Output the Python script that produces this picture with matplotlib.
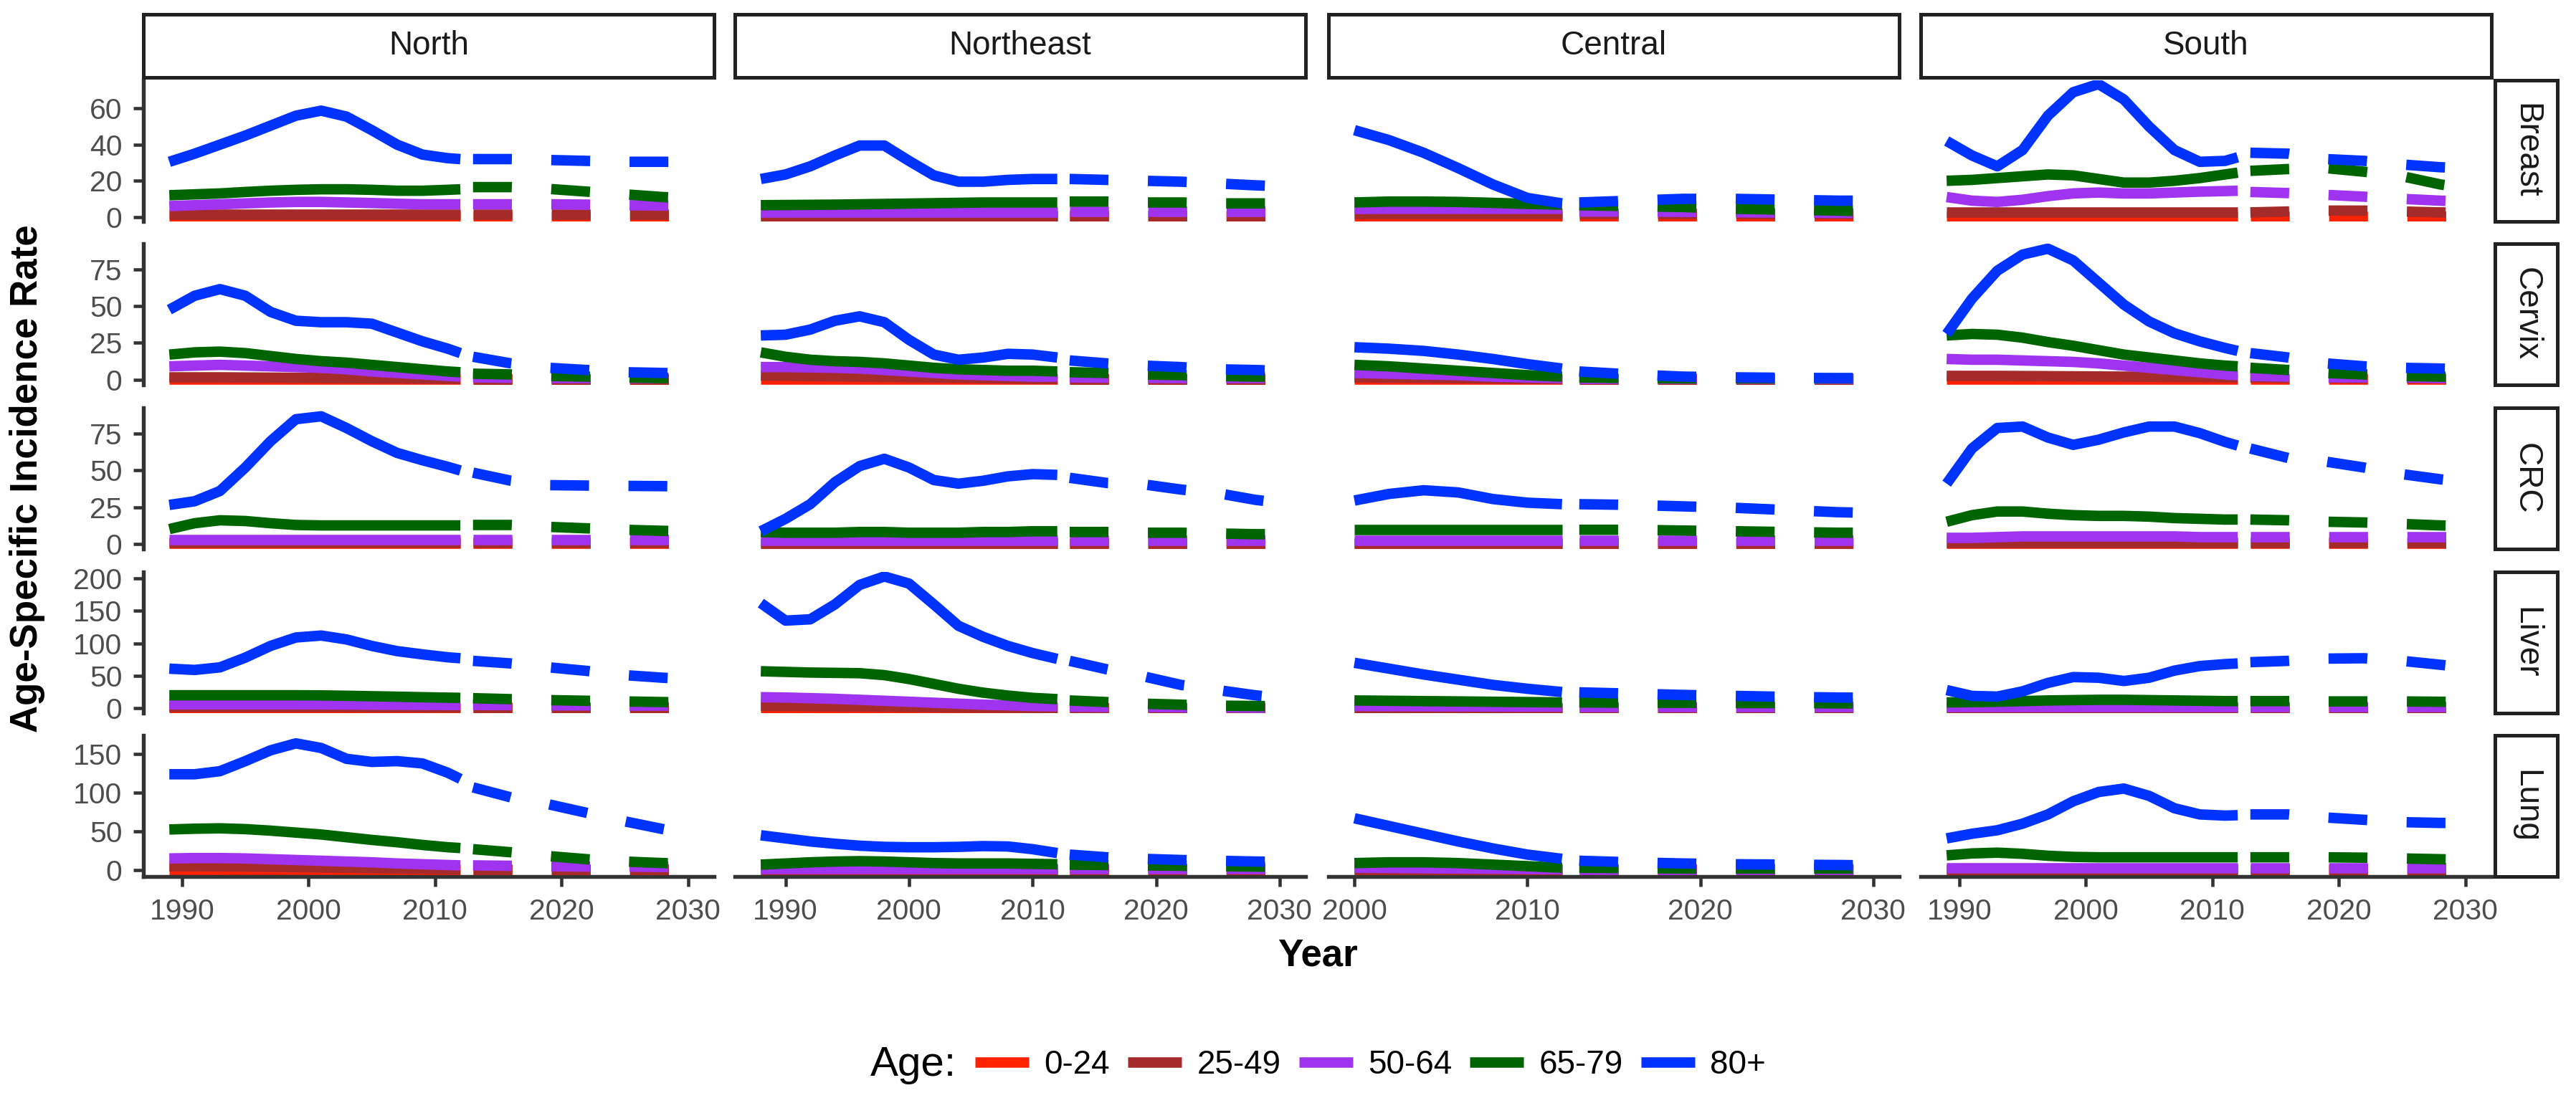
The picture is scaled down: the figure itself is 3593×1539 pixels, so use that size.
import matplotlib
matplotlib.use("Agg")
import matplotlib.pyplot as plt
from matplotlib.lines import Line2D
from matplotlib.patches import Rectangle

plt.rcParams['font.family'] = ['Liberation Sans', 'DejaVu Sans']
plt.rcParams['lines.scale_dashes'] = False

# ---------------- data ----------------
AGES = ["0-24", "25-49", "50-64", "65-79", "80+"]
COLORS = ["#FF2200", "#A52A2A", "#A033F0", "#006400", "#0033FF"]
REGIONS = ["North", "Northeast", "Central", "South"]
CANCERS = ["Breast", "Cervix", "CRC", "Liver", "Lung"]

YEARS_NORTH = [1989, 1991, 1993, 1995, 1997, 1999, 2001, 2003, 2005, 2007, 2009, 2011, 2012]
YEARS_NORTHEAST = [1988, 1990, 1992, 1994, 1996, 1998, 2000, 2002, 2004, 2006, 2008, 2010, 2012]
YEARS_CENTRAL = [2000, 2002, 2004, 2006, 2008, 2010, 2012]
YEARS_SOUTH = [1989, 1991, 1993, 1995, 1997, 1999, 2001, 2003, 2005, 2007, 2009, 2011, 2012]
PROJ_YEARS = [2013, 2016, 2019, 2022, 2025, 2028, 2030]

# observed series, order of AGES
north_breast_obs = [
    [0.1] * 13,
    [1.5] * 13,
    [6, 6.5, 7, 7.5, 8, 8.3, 8.3, 8, 7.7, 7.3, 7, 7, 7],
    [12, 12.5, 13, 13.8, 14.5, 15, 15.3, 15.3, 15, 14.5, 14.5, 15, 15.3],
    [30.5, 35, 40, 45, 50.5, 56, 58.8, 55.5, 48, 40, 34.5, 32.5, 32],
]
north_breast_proj = [
    [0.1] * 7,
    [1.5] * 7,
    [7, 7, 7, 6.8, 6.5, 6.3, 6.2],
    [16.5, 16.5, 15.5, 14, 12.5, 11, 10.5],
    [32, 32, 31.5, 31, 30.5, 30.5, 30.5],
]
north_cervix_obs = [
    [0.1] * 13,
    [1.5, 1.5, 1.5, 1.4, 1.3, 1.2, 1.1, 1, 0.9, 0.8, 0.7, 0.6, 0.5],
    [9, 9.5, 10, 9.5, 9, 8.5, 8, 7, 5.5, 4.5, 3.5, 2.5, 2],
    [17, 18.5, 19, 18, 16, 14, 12.5, 11.5, 10, 8.5, 7, 5.5, 5],
    [47.5, 57, 61.5, 57, 46, 40, 39, 39, 38, 32, 26, 21, 18],
]
north_cervix_proj = [
    [0.1] * 7,
    [0.5] * 7,
    [1.5, 1.2, 1, 1, 1, 1, 1],
    [4, 3.5, 2.5, 2, 1.5, 1, 1],
    [15.5, 11, 8, 6.5, 5, 4.5, 4],
]
north_crc_obs = [
    [0.1] * 13,
    [0.8] * 13,
    [2.6] * 13,
    [10, 14, 16, 15.5, 14, 12.8, 12.5, 12.5, 12.5, 12.5, 12.5, 12.5, 12.5],
    [26.5, 29, 36, 52, 70, 85, 87, 79, 70, 62, 57, 52.5, 50],
]
north_crc_proj = [
    [0.1] * 7,
    [0.8] * 7,
    [2.6] * 7,
    [12.8, 12.8, 11.5, 10.5, 9.5, 8.8, 8.5],
    [48.5, 43, 40, 39.7, 39.5, 39.3, 39],
]
north_liver_obs = [
    [0.2] * 13,
    [2, 2, 2, 2, 2, 2, 2, 2, 1.8, 1.8, 1.6, 1.5, 1.5],
    [6, 6, 6, 6, 6, 6, 6, 5.8, 5.6, 5.4, 5.2, 5, 5],
    [20, 20, 20, 20, 20, 20, 19.8, 19.2, 18.5, 17.8, 17, 16.3, 16],
    [61, 59, 63, 78, 96, 109, 112, 106, 96, 88, 83, 78.5, 77],
]
north_liver_proj = [
    [0.2] * 7,
    [1.5] * 7,
    [5, 4.8, 4.5, 4.3, 4, 4, 4],
    [15.5, 14, 12.5, 11.5, 10.5, 9.5, 9],
    [73, 69, 63, 57.5, 51, 47, 45],
]
north_lung_obs = [
    [0.2] * 13,
    [5, 5, 4.8, 4.5, 4.2, 3.8, 3.4, 3, 2.5, 2, 1.6, 1.2, 1],
    [15, 15.5, 15.5, 15, 14, 13, 12, 11, 10, 8.5, 7.5, 6.5, 6],
    [52.5, 53.5, 54, 53, 51, 48.5, 46, 42.5, 39, 36, 32.5, 29.5, 28.5],
    [124, 124, 128, 141, 155, 164, 158, 144, 140, 141, 138, 126, 118],
]
north_lung_proj = [
    [0.2] * 7,
    [1] * 7,
    [6, 5.5, 5, 4.5, 4.5, 4, 4],
    [27, 23, 18, 14, 11, 9, 8],
    [107, 94, 85, 74, 63, 53, 47],
]

northeast_breast_obs = [
    [0.1] * 13,
    [0.8] * 13,
    [2.8] * 13,
    [6.5, 6.6, 6.7, 6.8, 7, 7.2, 7.4, 7.6, 7.8, 8, 8, 8, 8],
    [21, 23.5, 28, 34, 39.5, 39.5, 31, 23, 19.5, 19.5, 20.5, 21, 21],
]
northeast_breast_proj = [
    [0.1] * 7,
    [0.8] * 7,
    [3] * 7,
    [8.5, 8.5, 8, 8, 7.5, 7.5, 7.5],
    [21, 20.5, 20, 19.5, 18.5, 17.5, 17],
]
northeast_cervix_obs = [
    [0.1] * 13,
    [2.7, 2.6, 2.4, 2.2, 2, 1.8, 1.6, 1.4, 1.2, 1, 0.8, 0.6, 0.5],
    [8.5, 8.5, 8.3, 8, 7.5, 6.5, 5.5, 4.5, 3.5, 3, 2.5, 2, 2],
    [18.5, 15.5, 13.5, 12.5, 12, 11, 9.5, 8, 7, 6.5, 6, 6, 5.5],
    [30, 30.5, 34, 40, 43, 39, 27, 17, 13.5, 15, 17.5, 17, 15],
]
northeast_cervix_proj = [
    [0.1] * 7,
    [0.5] * 7,
    [1.5, 1.3, 1.2, 1, 1, 1, 1],
    [5, 4.5, 3.5, 3, 2.5, 2, 2],
    [13, 11, 9.5, 8.5, 7, 6.5, 6],
]
northeast_crc_obs = [
    [0.1] * 13,
    [0.5] * 13,
    [2.5] * 13,
    [8, 7.5, 7.5, 7.5, 8, 8, 7.5, 7.5, 7.5, 8, 8, 8.5, 8.5],
    [8.5, 17, 27, 42, 53, 58, 52, 43.5, 41, 43, 46, 47.5, 47],
]
northeast_crc_proj = [
    [0.1] * 7,
    [0.5] * 7,
    [2.5] * 7,
    [8, 8, 7.5, 7.5, 7, 6.5, 6.5],
    [45, 41.5, 40.5, 37, 34.5, 30, 28],
]
northeast_liver_obs = [
    [0.2] * 13,
    [3.7, 3.5, 3.2, 3, 2.7, 2.4, 2, 1.7, 1.4, 1.1, 0.8, 0.6, 0.5],
    [17, 16.5, 15.5, 14.5, 13, 11.5, 10, 8.5, 7, 5.5, 4.5, 3.5, 3],
    [57, 56, 55, 54.5, 54, 51, 45, 37.5, 30, 24, 19.5, 16, 14],
    [162, 135, 137, 160, 190, 203, 192, 160, 127, 110, 96, 85, 76],
]
northeast_liver_proj = [
    [0.2] * 7,
    [0.5] * 7,
    [2.5, 2, 2, 1.5, 1.5, 1, 1],
    [12, 9.5, 7, 5.5, 4, 3.5, 3],
    [73, 60, 49, 36, 28, 20, 16],
]
northeast_lung_obs = [
    [0.2] * 13,
    [0.5] * 13,
    [1.5] * 13,
    [7, 8.5, 10, 11, 11.5, 11, 10, 9, 8.5, 8.5, 8.5, 8, 7.5],
    [45, 41, 37, 34, 31.5, 30, 29.5, 29.5, 30, 31, 30.5, 27, 22],
]
northeast_lung_proj = [
    [0.2] * 7,
    [0.5] * 7,
    [1.5] * 7,
    [7, 6.5, 6, 5.5, 5, 4.5, 4],
    [20, 16.5, 14.5, 13, 12, 11, 10.5],
]

central_breast_obs = [
    [0.1] * 7,
    [2, 2, 2, 2, 2, 2, 2],
    [4.4, 4.5, 4.5, 4.5, 4.5, 4.5, 4.5],
    [8, 8.5, 8.5, 8.3, 7.8, 7.2, 6.8],
    [48, 42.5, 35.5, 27, 18, 10.5, 7.5],
]
central_breast_proj = [
    [0.1] * 7,
    [2] * 7,
    [3, 3, 2.8, 2.6, 2.4, 2.2, 2.2],
    [6.5, 6, 5.5, 4.5, 4, 3.5, 3],
    [8, 9, 10, 10, 9.5, 9, 9],
]
central_cervix_obs = [
    [0.1] * 7,
    [1.5, 1.4, 1.2, 1, 0.8, 0.6, 0.5],
    [4.5, 4, 3.5, 3, 2, 1.5, 1],
    [10, 9, 7.5, 6, 4.5, 3, 2],
    [22, 21, 19.5, 17, 14, 10.5, 7.5],
]
central_cervix_proj = [
    [0.1] * 7,
    [0.5] * 7,
    [0.8] * 7,
    [1.5, 1, 0.8, 0.8, 0.8, 0.8, 0.8],
    [5.5, 3.5, 2, 1.5, 1.2, 1, 1],
]
central_crc_obs = [
    [0.1] * 7,
    [0.5] * 7,
    [2.4] * 7,
    [9.5] * 7,
    [29.5, 34, 36.5, 35, 30.5, 28, 27],
]
central_crc_proj = [
    [0.1] * 7,
    [0.5] * 7,
    [2.4] * 7,
    [9.5, 9.5, 9, 8.5, 8, 7.5, 7.5],
    [27, 26.5, 25.5, 24.5, 23, 21.5, 21],
]
central_liver_obs = [
    [0.2] * 7,
    [0.5] * 7,
    [3.5, 3.3, 3.1, 2.9, 2.7, 2.5, 2.5],
    [12, 11.5, 11, 10.5, 10, 9.5, 9],
    [70, 61, 52, 44, 36, 30, 25],
]
central_liver_proj = [
    [0.2] * 7,
    [0.5] * 7,
    [2.5] * 7,
    [9, 8.5, 8.5, 8, 8, 7.5, 7.5],
    [24.5, 22.5, 20.5, 19, 17.5, 16.5, 16],
]
central_lung_obs = [
    [0.2] * 7,
    [1] * 7,
    [3, 2.7, 2.3, 2, 1.7, 1.3, 1],
    [9, 10, 10, 9, 7, 5, 3],
    [67, 57, 47, 37, 28, 20, 14.5],
]
central_lung_proj = [
    [0.2] * 7,
    [1] * 7,
    [1] * 7,
    [3, 2.5, 2, 2, 2, 2, 2],
    [12, 10, 8.5, 7.5, 7, 6.5, 6],
]

south_breast_obs = [
    [0.1] * 13,
    [2.5] * 13,
    [11, 9, 8.3, 9.5, 11.5, 13, 13.5, 13, 13, 13.5, 14, 14.3, 14.5],
    [20, 20.5, 21.5, 22.5, 23.5, 23, 21, 19, 19, 20, 21.5, 23.5, 24.5],
    [42, 34, 28, 37, 56, 69, 73.5, 65, 50, 37, 30.5, 31, 33],
]
south_breast_proj = [
    [0.1] * 7,
    [2.5, 3, 3.5, 3.5, 3, 2.5, 2.5],
    [13.8, 13.2, 12.2, 11.2, 10, 9, 8.5],
    [25.5, 26.5, 27, 25, 22.5, 18, 16],
    [35.5, 35, 32, 31, 29, 27.5, 27],
]
south_cervix_obs = [
    [0.1] * 13,
    [2.5, 2.5, 2.5, 2.4, 2.3, 2.2, 2.1, 2, 1.9, 1.8, 1.7, 1.6, 1.5],
    [14, 13.5, 13.5, 13, 12.5, 12, 11, 9.5, 8, 6.5, 5, 3.5, 3],
    [30, 31, 30.5, 28.5, 25.5, 23, 20, 17, 15, 13, 11, 9.5, 9],
    [31, 55, 74, 85, 89, 81, 66, 51, 39.5, 31.5, 26, 21.5, 19.5],
]
south_cervix_proj = [
    [0.1] * 7,
    [1.5, 1.3, 1.2, 1, 1, 1, 1],
    [2.5, 2, 1.5, 1.5, 1.5, 1, 1],
    [8, 6.5, 4.5, 3.5, 2.5, 2, 2],
    [18, 15, 11, 9, 8, 7.5, 7],
]
south_crc_obs = [
    [0.1] * 13,
    [1] * 13,
    [4, 4, 4.5, 5, 5, 5, 5, 5, 5, 5, 4.5, 4.5, 4.5],
    [15, 19.5, 22, 22, 20.5, 19.5, 19, 19, 18.5, 17.5, 17, 16.5, 16.5],
    [41, 65, 79, 80, 72.5, 67.5, 71, 76, 80, 80, 75.5, 69.5, 67],
]
south_crc_proj = [
    [0.1] * 7,
    [1] * 7,
    [4.5] * 7,
    [16.5, 16, 15, 14.5, 13.5, 12.5, 12],
    [65, 58.5, 56, 52, 47.5, 44, 42],
]
south_liver_obs = [
    [0.2] * 13,
    [0.5] * 13,
    [2.5] * 13,
    [9, 9.5, 10, 11, 12, 12.5, 13, 13, 12.5, 12, 11.5, 11, 11],
    [28, 19, 18, 26, 39, 48, 47, 42, 47, 58, 65, 68, 69],
]
south_liver_proj = [
    [0.2] * 7,
    [0.5] * 7,
    [2.5] * 7,
    [11, 11, 10.5, 10.5, 10.5, 10, 10],
    [71, 73, 76.5, 77, 73, 67, 63],
]
south_lung_obs = [
    [0.2] * 13,
    [1] * 13,
    [3] * 13,
    [19, 21.5, 22.5, 21, 18.5, 17, 16.5, 16.5, 16.5, 16.5, 16.5, 16.5, 16.5],
    [41, 47, 51.5, 60, 72, 89, 101, 105.5, 96, 80, 72, 70.5, 71],
]
south_lung_proj = [
    [0.2] * 7,
    [1] * 7,
    [3] * 7,
    [16.5, 16.5, 16.5, 16, 15, 14, 13.5],
    [72, 72, 68, 65, 62, 61, 61],
]

OBS = {
    "North": [north_breast_obs, north_cervix_obs, north_crc_obs, north_liver_obs, north_lung_obs],
    "Northeast": [northeast_breast_obs, northeast_cervix_obs, northeast_crc_obs, northeast_liver_obs, northeast_lung_obs],
    "Central": [central_breast_obs, central_cervix_obs, central_crc_obs, central_liver_obs, central_lung_obs],
    "South": [south_breast_obs, south_cervix_obs, south_crc_obs, south_liver_obs, south_lung_obs],
}
PROJ = {
    "North": [north_breast_proj, north_cervix_proj, north_crc_proj, north_liver_proj, north_lung_proj],
    "Northeast": [northeast_breast_proj, northeast_cervix_proj, northeast_crc_proj, northeast_liver_proj, northeast_lung_proj],
    "Central": [central_breast_proj, central_cervix_proj, central_crc_proj, central_liver_proj, central_lung_proj],
    "South": [south_breast_proj, south_cervix_proj, south_crc_proj, south_liver_proj, south_lung_proj],
}
OBS_YEARS = {"North": YEARS_NORTH, "Northeast": YEARS_NORTHEAST,
             "Central": YEARS_CENTRAL, "South": YEARS_SOUTH}

Y_TICKS = [[0, 20, 40, 60], [0, 25, 50, 75], [0, 25, 50, 75], [0, 50, 100, 150, 200], [0, 50, 100, 150]]
Y_LIMS = [(-2.5, 75.6), (-3.6, 92.4), (-3.6, 92.8), (-7.5, 210), (-8.4, 174.4)]
X_TICKS = {"North": [1990, 2000, 2010, 2020, 2030], "Northeast": [1990, 2000, 2010, 2020, 2030],
           "Central": [2000, 2010, 2020, 2030], "South": [1990, 2000, 2010, 2020, 2030]}
X_LIMS = {"North": (1986.95, 2032.05), "Northeast": (1985.9, 2032.1),
          "Central": (1998.5, 2031.5), "South": (1986.95, 2032.05)}

# ---------------- layout (pixels) ----------------
W, H = 3593, 1539
DPI = 300
fig = plt.figure(figsize=(W / DPI, H / DPI), dpi=DPI)

col_left = [200, 1025, 1853, 2679]
col_w = 796
row_top = [112, 340, 569, 798, 1026]
row_h = 197

LW = 3.5
AX_COL = "#333333"
TICK_LAB = "#4D4D4D"


def fr(x, y, w, h):
    return [x / W, 1 - (y + h) / H, w / W, h / H]


for ci, reg in enumerate(REGIONS):
    for ri, can in enumerate(CANCERS):
        ax = fig.add_axes(fr(col_left[ci], row_top[ri], col_w, row_h))
        ax.set_xlim(*X_LIMS[reg])
        ax.set_ylim(*Y_LIMS[ri])
        obs = OBS[reg][ri]
        proj = PROJ[reg][ri]
        for ai, age in enumerate(AGES):
            ax.plot(OBS_YEARS[reg], obs[ai], color=COLORS[ai], lw=LW,
                    solid_capstyle='butt', solid_joinstyle='round', zorder=2 + ai)
            ax.plot(PROJ_YEARS, proj[ai], color=COLORS[ai], lw=LW,
                    linestyle=(0, (13, 13.2)), dash_capstyle='butt',
                    dash_joinstyle='round', zorder=2 + ai)
        for s in ['top', 'right']:
            ax.spines[s].set_visible(False)
        ax.spines['left'].set_visible(ci == 0)
        ax.spines['bottom'].set_visible(ri == 4)
        for s in ['left', 'bottom']:
            ax.spines[s].set_color(AX_COL)
            ax.spines[s].set_linewidth(1.3)
        ax.set_yticks(Y_TICKS[ri])
        ax.set_xticks(X_TICKS[reg])
        ax.tick_params(axis='both', length=3.3, width=1.1, color=AX_COL,
                       labelsize=9.8, labelcolor=TICK_LAB, pad=3.8)
        if ci != 0:
            ax.tick_params(axis='y', left=False, labelleft=False)
        if ri != 4:
            ax.tick_params(axis='x', bottom=False, labelbottom=False)
        ax.patch.set_alpha(0)

# column strips
for ci, reg in enumerate(REGIONS):
    sx, sy, sw, sh = col_left[ci], 20, col_w, 88
    fig.patches.append(Rectangle((sx / W, 1 - (sy + sh) / H), sw / W, sh / H,
                                 transform=fig.transFigure, facecolor='white',
                                 edgecolor='#222222', linewidth=1.2))
    fig.text((sx + sw / 2) / W, 1 - (sy + sh / 2) / H, reg, ha='center', va='center',
             fontsize=11, color='#1A1A1A')

# row strips
for ri, can in enumerate(CANCERS):
    sx, sy, sw, sh = 3480, row_top[ri], 87, row_h
    fig.patches.append(Rectangle((sx / W, 1 - (sy + sh) / H), sw / W, sh / H,
                                 transform=fig.transFigure, facecolor='white',
                                 edgecolor='#222222', linewidth=1.2))
    fig.text((sx + sw / 2) / W, 1 - (sy + sh / 2) / H, can, ha='center', va='center',
             fontsize=11, color='#1A1A1A', rotation=-90)

# axis titles
fig.text(38 / W, 1 - 668 / H, "Age-Specific Incidence Rate", rotation=90,
         ha='center', va='center', fontsize=12.7, fontweight='bold', color='black')
fig.text(1838 / W, 1 - 1333 / H, "Year", ha='center', va='center',
         fontsize=12.7, fontweight='bold', color='black')

# legend
fig.text(1214 / W, 1 - 1486 / H, "Age:", ha='left', va='center', fontsize=14, color='black')
handles = [Line2D([0], [0], color=c, lw=LW, solid_capstyle='butt') for c in COLORS]
fig.legend(handles, AGES, loc='center left', bbox_to_anchor=(1360 / W, 1 - 1486 / H),
           ncol=5, frameon=False, fontsize=11, handlelength=1.64, handletextpad=0.46,
           columnspacing=0.55, borderpad=0, borderaxespad=0)

fig.savefig("out.png", dpi=DPI, facecolor='white')
